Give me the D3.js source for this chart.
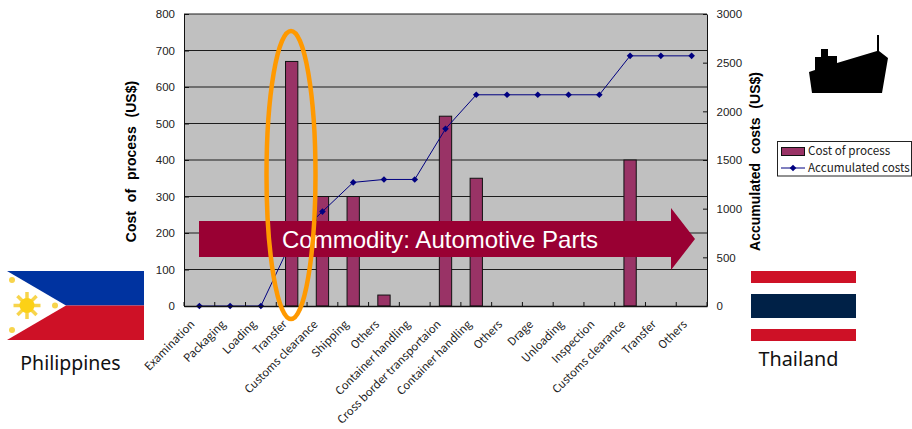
<!DOCTYPE html>
<html>
<head>
<meta charset="utf-8">
<script src="https://cdn.jsdelivr.net/npm/d3@7"></script>
<style>
  html, body { margin: 0; padding: 0; background: #fff; overflow: hidden; }
  text { font-family: "Liberation Sans", Arial, sans-serif; }
</style>
</head>
<body>
<script>
const categories = ["Examination", "Packaging", "Loading", "Transfer", "Customs clearance", "Shipping",
  "Others", "Container handling", "Cross border transportaion", "Container handling", "Others",
  "Drage", "Unloading", "Inspection", "Customs clearance", "Transfer", "Others"];
const costs = [0, 0, 0, 670, 300, 300, 30, 0, 520, 350, 0, 0, 0, 0, 400, 0, 0];
const accumulated = [0, 0, 0, 670, 970, 1270, 1300, 1300, 1820, 2170, 2170, 2170, 2170, 2170, 2570, 2570, 2570];
const leftTicks = [0, 100, 200, 300, 400, 500, 600, 700, 800];
const rightTicks = [0, 500, 1000, 1500, 2000, 2500, 3000];

const labelFont = '"Noto Sans CJK JP", "Noto Sans", sans-serif';
const numberFont = '"Liberation Sans", Arial, sans-serif';

const margin = { top: 14, right: 205, bottom: 123, left: 184 };
const width = 912 - margin.left - margin.right;
const height = 429 - margin.top - margin.bottom;

const svg = d3.select("body").append("svg")
  .attr("width", 912)
  .attr("height", 429)
  .style("display", "block");

const chart = svg.append("g")
  .attr("transform", "translate(" + margin.left + "," + margin.top + ")");

// Scales
const xScale = d3.scaleBand().domain(d3.range(categories.length)).range([0, width]);
const yLeft = d3.scaleLinear().domain([0, 800]).range([height, 0]);
const yRight = d3.scaleLinear().domain([0, 3000]).range([height, 0]);

// Plot background and gridlines
chart.append("rect")
  .attr("width", width)
  .attr("height", height)
  .attr("fill", "#c0c0c0");

chart.selectAll(".grid")
  .data(leftTicks.slice(1))
  .join("line")
  .attr("class", "grid")
  .attr("x1", 0)
  .attr("x2", width)
  .attr("y1", d => yLeft(d))
  .attr("y2", d => yLeft(d))
  .attr("stroke", "#1c1c1c")
  .attr("stroke-width", 1);

// Bars
const barWidth = xScale.bandwidth() * 0.4;
chart.selectAll(".bar")
  .data(costs)
  .join("rect")
  .attr("class", "bar")
  .attr("x", (d, i) => xScale(i) + (xScale.bandwidth() - barWidth) / 2)
  .attr("y", d => yLeft(d))
  .attr("width", barWidth)
  .attr("height", d => height - yLeft(d))
  .attr("fill", "#993366")
  .attr("stroke", d => d > 0 ? "#111" : "none")
  .attr("stroke-width", 1);

// Accumulated cost line
const line = d3.line()
  .x((d, i) => xScale(i) + xScale.bandwidth() / 2)
  .y(d => yRight(d));

chart.append("path")
  .datum(accumulated)
  .attr("d", line)
  .attr("fill", "none")
  .attr("stroke", "#000080")
  .attr("stroke-width", 1);

chart.selectAll(".marker")
  .data(accumulated)
  .join("path")
  .attr("class", "marker")
  .attr("d", d3.symbol(d3.symbolSquare, 22))
  .attr("transform", (d, i) => "translate(" + (xScale(i) + xScale.bandwidth() / 2) + "," + yRight(d) + ") rotate(45)")
  .attr("fill", "#000080");

// Axes
const leftAxis = chart.append("g")
  .call(d3.axisLeft(yLeft).tickValues(leftTicks).tickSizeInner(-5).tickSizeOuter(0).tickPadding(9));

const rightAxis = chart.append("g")
  .attr("transform", "translate(" + width + ",0)")
  .call(d3.axisRight(yRight).tickValues(rightTicks).tickFormat(d3.format("d")).tickSizeInner(-4).tickSizeOuter(0).tickPadding(9.5));

const bottomAxis = chart.append("g")
  .attr("transform", "translate(0," + height + ")")
  .call(d3.axisBottom(xScale).tickSize(0).tickFormat(i => categories[i]));

bottomAxis.selectAll("text")
  .attr("text-anchor", "end")
  .attr("dx", 0)
  .attr("dy", 0)
  .attr("y", 0)
  .attr("transform", "translate(-4,19) rotate(-45)");

chart.selectAll(".xtick")
  .data(d3.range(categories.length + 1))
  .join("line")
  .attr("class", "xtick")
  .attr("x1", i => i * xScale.step())
  .attr("x2", i => i * xScale.step())
  .attr("y1", height)
  .attr("y2", height - 4)
  .attr("stroke", "#111");

[leftAxis, rightAxis].forEach(a => {
  a.selectAll("text")
    .style("font-family", numberFont)
    .style("font-size", "11.5px")
    .attr("fill", "#222");
});
bottomAxis.selectAll("text")
  .style("font-family", labelFont)
  .style("font-size", "11.2px")
  .attr("fill", "#222");
[leftAxis, rightAxis, bottomAxis].forEach(a => {
  a.selectAll("path, line").attr("stroke", "#111");
});
bottomAxis.select("path").attr("stroke-width", 1.5);

// Axis titles
svg.append("text")
  .attr("transform", "translate(136,161.5) rotate(-90)")
  .attr("text-anchor", "middle")
  .attr("font-size", 14)
  .attr("font-weight", "bold")
  .attr("word-spacing", 5)
  .text("Cost of process (US$)");

svg.append("text")
  .attr("transform", "translate(760,161.5) rotate(-90)")
  .attr("text-anchor", "middle")
  .attr("font-size", 14)
  .attr("font-weight", "bold")
  .attr("word-spacing", 5)
  .text("Accumulated costs (US$)");

// Commodity arrow
svg.append("path")
  .attr("d", d3.line()([[199, 221], [671, 221], [671, 208], [695, 239], [671, 270], [671, 257], [199, 257]]) + "Z")
  .attr("fill", "#990033");

svg.append("text")
  .attr("x", 282)
  .attr("y", 248)
  .attr("font-size", 24)
  .attr("fill", "#fff")
  .text("Commodity: Automotive Parts");

// Highlight around the Transfer bar
svg.append("ellipse")
  .attr("cx", 291)
  .attr("cy", 175)
  .attr("rx", 24.5)
  .attr("ry", 144)
  .attr("fill", "none")
  .attr("stroke", "#ff9900")
  .attr("stroke-width", 4.5);

// Legend
const legend = svg.append("g");
legend.append("rect")
  .attr("x", 777.5).attr("y", 141.5)
  .attr("width", 134).attr("height", 34.5)
  .attr("fill", "#fff").attr("stroke", "#222");
legend.append("rect")
  .attr("x", 781.5).attr("y", 147.5)
  .attr("width", 23).attr("height", 8)
  .attr("fill", "#993366").attr("stroke", "#111");
legend.append("line")
  .attr("x1", 781).attr("x2", 805)
  .attr("y1", 168).attr("y2", 168)
  .attr("stroke", "#000080");
legend.append("path")
  .attr("d", d3.symbol(d3.symbolSquare, 22))
  .attr("transform", "translate(793,168) rotate(45)")
  .attr("fill", "#000080");
legend.selectAll(".legend-label")
  .data(["Cost of process", "Accumulated costs"])
  .join("text")
  .attr("class", "legend-label")
  .attr("x", 808)
  .attr("y", (d, i) => 155 + i * 17)
  .style("font-family", labelFont)
  .attr("font-size", 11.7)
  .attr("fill", "#222")
  .text(d => d);

// Ship silhouette
svg.append("path")
  .attr("d", d3.line()([[809, 72], [815, 70], [815, 57], [821, 57], [821, 49], [828, 49], [828, 56], [837, 56],
    [837, 63], [877, 51], [877, 35], [879, 35], [879, 51], [888, 58], [882, 93], [812, 93]]) + "Z")
  .attr("fill", "#000");

// Philippine flag
const ph = svg.append("g");
ph.append("rect").attr("x", 7).attr("y", 271).attr("width", 137).attr("height", 34.5).attr("fill", "#0033a0");
ph.append("rect").attr("x", 7).attr("y", 305.5).attr("width", 137).attr("height", 34.5).attr("fill", "#ce1126");
ph.append("path")
  .attr("d", d3.line()([[7, 271], [66, 305.5], [7, 340]]) + "Z")
  .attr("fill", "#fff");
ph.selectAll(".ray")
  .data(d3.range(8))
  .join("line")
  .attr("class", "ray")
  .attr("x1", 27).attr("y1", 305.5)
  .attr("x2", i => 27 + 13.5 * Math.cos(i * Math.PI / 4))
  .attr("y2", i => 305.5 + 13.5 * Math.sin(i * Math.PI / 4))
  .attr("stroke", "#f7d44c")
  .attr("stroke-width", 3.5);
ph.append("circle").attr("cx", 27).attr("cy", 305.5).attr("r", 7.5).attr("fill", "#fcd116");
ph.selectAll(".star")
  .data([[12, 280], [55, 305.5], [12, 330]])
  .join("circle")
  .attr("class", "star")
  .attr("cx", d => d[0]).attr("cy", d => d[1])
  .attr("r", 3)
  .attr("fill", "#f7d44c");

svg.append("text")
  .attr("x", 70.5).attr("y", 370)
  .attr("text-anchor", "middle")
  .style("font-family", '"Noto Sans", sans-serif')
  .attr("font-size", 19.5)
  .attr("fill", "#111")
  .text("Philippines");

// Thai flag
const thaiBands = [[271, 12, "#ce1126"], [294, 24, "#002147"], [329, 12, "#ce1126"]];
svg.selectAll(".th-band")
  .data(thaiBands)
  .join("rect")
  .attr("class", "th-band")
  .attr("x", 751)
  .attr("y", d => d[0])
  .attr("width", 105)
  .attr("height", d => d[1])
  .attr("fill", d => d[2]);

svg.append("text")
  .attr("x", 798.5).attr("y", 366)
  .attr("text-anchor", "middle")
  .style("font-family", '"Noto Sans", sans-serif')
  .attr("font-size", 19.8)
  .attr("fill", "#111")
  .text("Thailand");
</script>
</body>
</html>
